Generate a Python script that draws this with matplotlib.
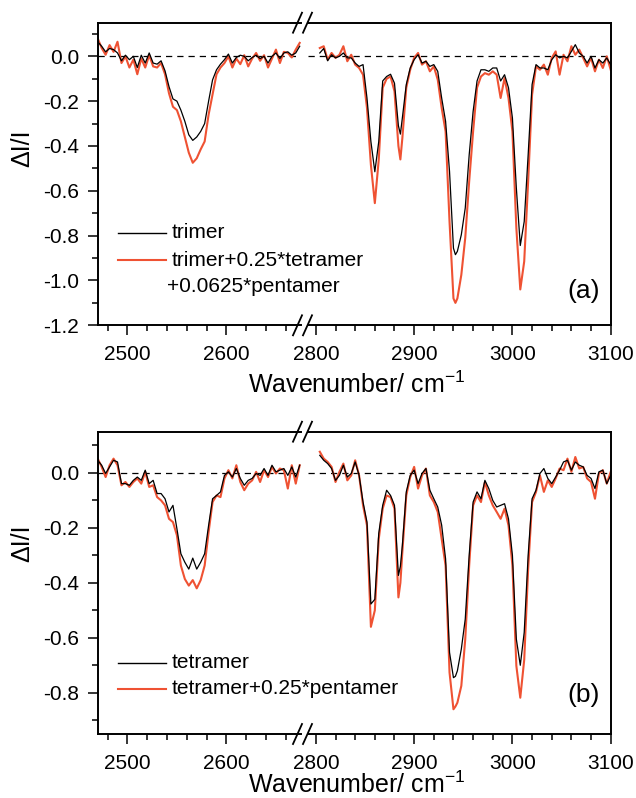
import matplotlib
matplotlib.use('Agg')
import matplotlib.pyplot as plt
from matplotlib.lines import Line2D
from matplotlib.ticker import FixedLocator, MultipleLocator, FormatStrFormatter

plt.rcParams['font.family'] = ['Liberation Sans', 'DejaVu Sans']
plt.rcParams['axes.unicode_minus'] = False
plt.rcParams['mathtext.fontset'] = 'custom'
plt.rcParams['mathtext.rm'] = 'Liberation Sans'
plt.rcParams['mathtext.default'] = 'regular'

# wavenumber grids (cm-1) for the two segments of the broken axis
wn_left = [2470, 2474, 2478, 2482, 2486, 2490, 2494, 2498, 2502, 2506, 2510, 2514, 2518,
           2522, 2526, 2530, 2534, 2538, 2542, 2546, 2550, 2554, 2558, 2562, 2566, 2570,
           2574, 2578, 2582, 2586, 2590, 2594, 2598, 2602, 2606, 2610, 2614, 2618, 2622,
           2626, 2630, 2634, 2638, 2642, 2646, 2650, 2654, 2658, 2662, 2666, 2670, 2674]
wn_right = [2804, 2808, 2812, 2816, 2820, 2824, 2828, 2832, 2836, 2840, 2844, 2848, 2852,
            2856, 2860, 2864, 2868, 2872, 2876, 2880, 2884, 2886, 2888, 2892, 2896, 2900,
            2904, 2908, 2912, 2916, 2920, 2924, 2928, 2932, 2936, 2940, 2942, 2944, 2948,
            2952, 2956, 2960, 2964, 2968, 2972, 2976, 2980, 2984, 2988, 2992, 2996, 3000,
            3004, 3008, 3012, 3016, 3020, 3024, 3028, 3032, 3036, 3040, 3044, 3048, 3052,
            3056, 3060, 3064, 3068, 3072, 3076, 3080, 3084, 3088, 3092, 3096, 3100]

# panel (a)
trimer_left = [0.065, 0.045, 0.02, 0.035, 0.03, 0.015, -0.02, 0.005, -0.015, 0.0, -0.05, 0.005,
               -0.03, 0.015, -0.03, -0.035, -0.02, -0.065, -0.135, -0.19, -0.2, -0.24, -0.29,
               -0.35, -0.375, -0.36, -0.335, -0.3, -0.2, -0.105, -0.06, -0.035, -0.015, 0.01,
               -0.03, -0.005, 0.005, 0.0, -0.02, -0.005, 0.005, -0.01, 0.0, -0.03, 0.0, 0.015,
               -0.01, 0.015, 0.02, 0.005, 0.015, 0.045]
mix_a_left = [0.08, 0.037, 0.007, 0.05, 0.02, 0.065, -0.03, 0.0, -0.05, -0.015, -0.08, -0.01,
              -0.05, 0.005, -0.045, -0.05, -0.03, -0.08, -0.165, -0.225, -0.24, -0.29, -0.36,
              -0.43, -0.475, -0.455, -0.415, -0.38, -0.26, -0.17, -0.08, -0.05, -0.03, 0.0,
              -0.05, -0.01, -0.035, 0.005, -0.045, -0.01, 0.015, -0.02, 0.005, -0.05, -0.01,
              0.03, -0.03, 0.02, 0.015, -0.005, 0.03, 0.06]
trimer_right = [0.015, 0.035, -0.02, 0.007, -0.007, 0.0, 0.015, -0.007, -0.007, -0.03, -0.045,
                -0.037, -0.186, -0.38, -0.515, -0.38, -0.11, -0.09, -0.08, -0.12, -0.31, -0.347,
                -0.275, -0.126, -0.052, -0.015, 0.007, -0.03, -0.022, -0.045, -0.037, -0.067,
                -0.186, -0.29, -0.513, -0.856, -0.885, -0.87, -0.796, -0.677, -0.44, -0.246,
                -0.11, -0.06, -0.06, -0.067, -0.052, -0.052, -0.11, -0.082, -0.14, -0.275,
                -0.588, -0.844, -0.737, -0.44, -0.126, -0.037, -0.052, -0.052, -0.06, -0.015,
                0.007, -0.007, 0.0, -0.007, 0.022, 0.052, 0.015, 0.0, -0.03, 0.0, -0.052,
                -0.015, -0.03, -0.007, -0.037]
mix_a_right = [0.037, 0.045, -0.015, 0.015, -0.007, 0.007, 0.045, -0.022, 0.007, -0.037, -0.052,
               -0.082, -0.23, -0.484, -0.655, -0.46, -0.14, -0.1, -0.09, -0.156, -0.4, -0.46,
               -0.365, -0.14, -0.06, -0.007, 0.015, -0.037, -0.022, -0.067, -0.045, -0.104,
               -0.23, -0.335, -0.737, -1.08, -1.1, -1.08, -0.975, -0.81, -0.558, -0.335, -0.14,
               -0.09, -0.075, -0.082, -0.067, -0.082, -0.186, -0.097, -0.186, -0.335, -0.766,
               -1.04, -0.915, -0.558, -0.171, -0.045, -0.06, -0.037, -0.082, -0.007, 0.022,
               -0.082, 0.007, -0.022, 0.045, 0.007, 0.03, -0.007, -0.045, -0.007, -0.067,
               -0.015, -0.052, 0.0, -0.06]

# panel (b)
tetramer_left = [0.046, 0.028, -0.002, 0.022, 0.046, 0.04, -0.039, -0.039, -0.045, -0.027,
                 -0.015, -0.027, 0.01, -0.039, -0.027, -0.075, -0.075, -0.094, -0.142, -0.118,
                 -0.203, -0.294, -0.325, -0.35, -0.31, -0.35, -0.325, -0.294, -0.191, -0.094,
                 -0.082, -0.069, -0.009, 0.004, -0.015, 0.016, -0.02, -0.045, -0.027, -0.02,
                 -0.002, -0.009, 0.016, -0.009, 0.028, 0.004, 0.01, 0.016, -0.009, 0.022,
                 -0.015, 0.028]
mix_b_left = [0.052, 0.022, -0.015, 0.028, 0.052, 0.028, -0.045, -0.033, -0.051, -0.033, -0.02,
              -0.039, 0.004, -0.051, -0.045, -0.088, -0.1, -0.118, -0.167, -0.179, -0.227,
              -0.337, -0.386, -0.41, -0.39, -0.42, -0.39, -0.337, -0.215, -0.106, -0.082,
              -0.088, -0.02, 0.01, -0.02, 0.028, -0.033, -0.063, -0.039, -0.027, 0.004,
              -0.033, 0.01, -0.015, 0.022, -0.002, 0.016, 0.01, -0.057, 0.028, -0.039, 0.028]
tetramer_right = [0.064, 0.046, 0.034, 0.016, -0.027, -0.009, 0.028, -0.015, -0.002, 0.04,
                  -0.009, -0.106, -0.179, -0.477, -0.46, -0.22, -0.118, -0.063, -0.082, -0.118,
                  -0.373, -0.34, -0.264, -0.069, -0.009, 0.01, -0.039, -0.002, 0.016, -0.063,
                  -0.094, -0.124, -0.19, -0.313, -0.653, -0.745, -0.74, -0.72, -0.641, -0.532,
                  -0.3, -0.106, -0.069, -0.094, -0.027, -0.057, -0.1, -0.124, -0.118, -0.112,
                  -0.167, -0.3, -0.605, -0.7, -0.58, -0.3, -0.094, -0.063, -0.002, 0.016, -0.02,
                  -0.039, -0.015, 0.01, 0.04, 0.046, 0.01, 0.04, 0.028, 0.022, -0.009, -0.02,
                  -0.057, 0.004, 0.01, -0.039, -0.009]
mix_b_right = [0.077, 0.052, 0.04, 0.022, -0.033, 0.004, 0.034, -0.027, -0.009, 0.046, -0.009,
               -0.118, -0.191, -0.56, -0.5, -0.24, -0.13, -0.082, -0.088, -0.13, -0.453, -0.4,
               -0.288, -0.082, -0.015, 0.022, -0.057, -0.009, 0.016, -0.082, -0.106, -0.142,
               -0.24, -0.337, -0.726, -0.86, -0.85, -0.836, -0.775, -0.605, -0.337, -0.118,
               -0.082, -0.106, -0.033, -0.082, -0.118, -0.142, -0.167, -0.13, -0.191, -0.337,
               -0.702, -0.818, -0.68, -0.35, -0.106, -0.069, -0.009, -0.069, -0.027, -0.051,
               -0.02, 0.016, 0.01, 0.052, 0.004, 0.058, 0.016, 0.022, -0.02, -0.033, -0.094,
               -0.002, 0.01, -0.039, 0.004]

yticks_a = [-1.2, -1.0, -0.8, -0.6, -0.4, -0.2, 0.0]
yticks_b = [-0.8, -0.6, -0.4, -0.2, 0.0]

W, H = 636, 798
fig = plt.figure(figsize=(W / 100, H / 100), dpi=100)
red = '#ef5233'


def fx(px):
    return px / W


def fy(py):
    return 1 - py / H


def panel(top, bottom, ylim, yticks, black_l, red_l, black_r, red_r):
    h = (bottom - top) / H
    axl = fig.add_axes([fx(97.7), fy(bottom), (300.7 - 97.7) / W, h])
    axr = fig.add_axes([fx(308), fy(bottom), (610.7 - 308) / W, h])
    for ax, lim in ((axl, (2470, 2675)), (axr, (2792, 3100))):
        ax.set_xlim(*lim)
        ax.set_ylim(*ylim)
        ax.axhline(0, color='k', lw=0.9, ls=(0, (5, 4)), zorder=1)
        ax.xaxis.set_major_locator(MultipleLocator(100))
        ax.xaxis.set_minor_locator(MultipleLocator(20))
        ax.tick_params(axis='x', which='major', direction='out', length=7, width=1.1,
                       labelsize=15, pad=7.5, top=False)
        ax.tick_params(axis='x', which='minor', direction='out', length=4.5, width=1.1, top=False)
        for s in ax.spines.values():
            s.set_linewidth(1.4)
    axl.plot(wn_left, red_l, color=red, lw=1.5, zorder=2)
    axl.plot(wn_left, black_l, color='k', lw=0.9, zorder=3)
    axr.plot(wn_right, red_r, color=red, lw=1.5, zorder=2)
    axr.plot(wn_right, black_r, color='k', lw=0.9, zorder=3)
    axl.spines['right'].set_visible(False)
    axr.spines['left'].set_visible(False)
    axr.tick_params(axis='y', which='both', left=False, right=False, labelleft=False)
    axl.yaxis.set_major_locator(FixedLocator(yticks))
    axl.yaxis.set_minor_locator(MultipleLocator(0.1))
    axl.yaxis.set_major_formatter(FormatStrFormatter('%.1f'))
    axl.tick_params(axis='y', which='major', direction='out', length=7.5, width=1.1,
                    labelsize=15, pad=6, right=False)
    axl.tick_params(axis='y', which='minor', direction='out', length=4.5, width=1.1, right=False)
    # break marks "//"
    for py in (top, bottom):
        for x0 in (293, 303):
            fig.add_artist(Line2D([fx(x0), fx(x0 + 9)], [fy(py + 10), fy(py - 10)],
                                  color='k', lw=1.3))
    return axl, axr


panel(22.7, 325.3, (-1.2, 0.15), yticks_a, trimer_left, mix_a_left, trimer_right, mix_a_right)
panel(431.7, 734, (-0.95, 0.15), yticks_b, tetramer_left, mix_b_left, tetramer_right, mix_b_right)

# axis labels
for yl, xb in ((148, 393), (543, 793)):
    fig.text(fx(22), fy(yl), '\u0394I/I', rotation=90, ha='center', va='center', fontsize=18)
    fig.text(fx(248), fy(xb), 'Wavenumber/ cm$^{-1}$', ha='left', va='baseline', fontsize=18)

# legends
fig.add_artist(Line2D([fx(118), fx(166)], [fy(233), fy(233)], color='k', lw=1))
fig.text(fx(172), fy(233), 'trimer', va='center', fontsize=15)
fig.add_artist(Line2D([fx(118), fx(166)], [fy(260), fy(260)], color=red, lw=1.5))
fig.text(fx(172), fy(261), 'trimer+0.25*tetramer', va='center', fontsize=15)
fig.text(fx(167), fy(286), '+0.0625*pentamer', va='center', fontsize=15)
fig.text(fx(600), fy(291), '(a)', ha='right', va='center', fontsize=19)

fig.add_artist(Line2D([fx(118), fx(166)], [fy(663), fy(663)], color='k', lw=1))
fig.text(fx(172), fy(663), 'tetramer', va='center', fontsize=15)
fig.add_artist(Line2D([fx(118), fx(166)], [fy(689), fy(689)], color=red, lw=1.5))
fig.text(fx(172), fy(689), 'tetramer+0.25*pentamer', va='center', fontsize=15)
fig.text(fx(600), fy(695), '(b)', ha='right', va='center', fontsize=19)

fig.savefig('out.png', dpi=100)
